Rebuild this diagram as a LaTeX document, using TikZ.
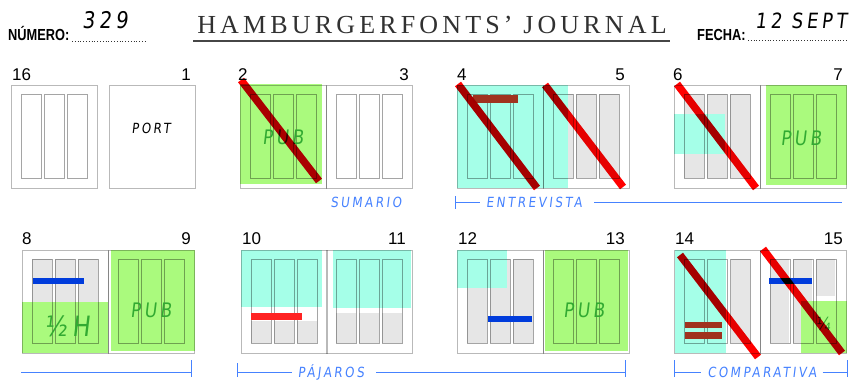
\documentclass[tikz,border=0pt]{standalone}
\usepackage{fontspec}
\setmainfont{Liberation Sans}
\newfontfamily\hand{DejaVu Sans}[FakeSlant=0.12, FakeStretch=0.85]
\newfontfamily\handwide{DejaVu Sans}[FakeSlant=0.12, FakeStretch=0.85, LetterSpace=18]
\newfontfamily\titlefont{Liberation Serif}[LetterSpace=16]
\newfontfamily\narrowfont{Liberation Sans}[FakeStretch=0.8]
\usepackage{tikz}
\usetikzlibrary{positioning}

\definecolor{pubgreen}{RGB}{170,250,125}
\definecolor{edcyan}{RGB}{165,255,232}
\definecolor{colgray}{RGB}{230,230,230}
\definecolor{pageline}{RGB}{185,185,185}
\definecolor{colline}{RGB}{165,165,165}
\definecolor{slashred}{RGB}{255,0,0}
\definecolor{barblue}{RGB}{0,60,220}
\definecolor{barbrown}{RGB}{160,50,30}
\definecolor{barred}{RGB}{255,35,35}
\definecolor{secblue}{RGB}{70,130,255}
\definecolor{inkgreen}{RGB}{50,170,50}
\definecolor{titlegray}{RGB}{70,70,70}

% three text columns of a page
\newcommand\pagecols[2]{\foreach \o in {10,33,56}{\draw[colbox] ({#1+\o},{#2+9}) rectangle ++(20,84);}}
\newcommand\graycols[3]{\foreach \o in {10,33,56}{\fill[colgray] ({#1+\o},#2) rectangle ({#1+\o+20},#3);}}
\newcommand\pagebox[2]{\draw[pagebox] (#1,#2) rectangle ++(86,103);}

\begin{document}
\begin{tikzpicture}[x=1pt, y=-1pt,
    pagebox/.style={draw=pageline, line width=1pt},
    colbox/.style={draw=colline, line width=0.9pt},
    slash/.style={draw=slashred, line width=7.5pt},
    pnum/.style={font=\fontsize{17}{17}\selectfont, inner sep=0pt},
    ink/.style={font=\hand\fontsize{20}{20}\selectfont, text=inkgreen},
    seclabel/.style={font=\handwide\fontsize{14}{14}\selectfont, text=secblue, inner sep=6pt},
    secline/.style={draw=secblue, line width=1pt},
    dotline/.style={draw=black!80, line width=0.8pt, dotted},
]
\useasboundingbox (0,0) rectangle (858,383);
\fill[white] (0,0) rectangle (858,383);

% header
\node[font=\narrowfont\bfseries\fontsize{16}{16}\selectfont, anchor=base west, inner sep=0pt] (numlabel) at (8,40) {NÚMERO:};
\node[font=\handwide\fontsize{23}{23}\selectfont, anchor=base west, inner sep=0pt] (numval) at (82,28) {329};
\draw[dotline] (72,41) -- (145,41);
\node[font=\titlefont\fontsize{26}{26}\selectfont, text=titlegray!70!black, anchor=base, inner sep=0pt] (title) at (432,33) {HAMBURGERFONTS’ JOURNAL};
\draw[draw=titlegray, line width=1.6pt] (193,41) -- (670,41);
\node[font=\narrowfont\bfseries\fontsize{16}{16}\selectfont, anchor=base west, inner sep=0pt] (datelabel) at (697,40) {FECHA:};
\node[font=\handwide\fontsize{21}{21}\selectfont, anchor=base west, inner sep=0pt] (dateval) at (755,28) {12 SEPT};
\draw[dotline] (748,40) -- (848,40);

% gray column fills
\graycols{543}{94}{178}
\graycols{674}{94}{178}
\graycols{22}{259}{343}
\graycols{241}{321}{343}
\graycols{326}{313}{343}
\graycols{457}{259}{343}
\fill[colgray] (731,259) rectangle (750,343);
\fill[colgray] (770,259) rectangle (789,343);
\fill[colgray] (793,259) rectangle (812,343);
\fill[colgray] (816,259) rectangle (835,296);

% coloured zones
\fill[pubgreen] (240,84) rectangle (322,184);
\fill[edcyan] (457,85) rectangle (568,188);
\fill[edcyan] (674,114) rectangle (725,154);
\fill[pubgreen] (766,85) rectangle (847,185);
\fill[pubgreen] (22,302) rectangle (108,353);
\fill[pubgreen] (111,250) rectangle (195,351);
\fill[edcyan] (241,250) rectangle (322,307);
\fill[edcyan] (333,250) rectangle (411,308);
\fill[edcyan] (457,250) rectangle (507,288);
\fill[pubgreen] (545,250) rectangle (628,351);
\fill[edcyan] (675,250) rectangle (726,353);
\fill[pubgreen] (801,301) rectangle (847,353);

% pages and columns
\begin{scope}[blend mode=multiply]
  \foreach \px/\py in {11/85, 240/85, 326/85, 457/85, 543/85, 674/85, 760/85,
                       22/250, 108/250, 241/250, 326/250, 457/250, 543/250, 674/250, 760/250}{
    \pagebox{\px}{\py}
    \pagecols{\px}{\py}
  }
  \pagebox{109}{85}
\end{scope}

% bars
\fill[barbrown] (473,95) rectangle (518,103);
\fill[barblue] (33,278) rectangle (84,284);
\fill[barred] (251,313) rectangle (302,320);
\fill[barblue] (488,316) rectangle (532,322);
\fill[barbrown] (685,322) rectangle (722,328);
\fill[barbrown] (685,332) rectangle (722,339);
\fill[barblue] (769,278) rectangle (812,284);

% texts on pages
\node[font=\handwide\fontsize{14}{14}\selectfont] (port) at (151,128) {PORT};
\node[ink] (pub2) at (283,137) {P\,U\,B};
\node[ink] (pub7) at (801,138) {P\,U\,B};
\node[ink] (pub9) at (151,310) {P\,U\,B};
\node[ink] (pub13) at (584,310) {P\,U\,B};
\node[ink, font=\hand\fontsize{28}{28}\selectfont] (halfh) at (67,326) {½\,H};
\node[ink, font=\hand\fontsize{18}{18}\selectfont] (quarter) at (823,324) {¼};

% page numbers
\node[pnum, anchor=base west] (n16) at (12,80) {16};
\node[pnum, anchor=base east] (n1) at (191,80) {1};
\node[pnum, anchor=base west] (n2) at (238,80) {2};
\node[pnum, anchor=base east] (n3) at (409,80) {3};
\node[pnum, anchor=base west] (n4) at (457,80) {4};
\node[pnum, anchor=base east] (n5) at (625,80) {5};
\node[pnum, anchor=base west] (n6) at (673,80) {6};
\node[pnum, anchor=base east] (n7) at (843,80) {7};
\node[pnum, anchor=base west] (n8) at (22,244) {8};
\node[pnum, anchor=base east] (n9) at (191,244) {9};
\node[pnum, anchor=base west] (n10) at (242,244) {10};
\node[pnum, anchor=base east] (n11) at (406,244) {11};
\node[pnum, anchor=base west] (n12) at (458,244) {12};
\node[pnum, anchor=base east] (n13) at (625,244) {13};
\node[pnum, anchor=base west] (n14) at (675,244) {14};
\node[pnum, anchor=base east] (n15) at (843,244) {15};

% section labels
\node[seclabel] (sumario) at (366,202) {SUMARIO};
\node[seclabel] (entrevista) at (534,202) {ENTREVISTA};
\coordinate (entA) at (455,202);
\coordinate (entB) at (842,202);
\draw[secline] (entA) ++(0,-6) -- ++(0,13);
\draw[secline] (entA) -- (entrevista.west);
\draw[secline] (entrevista.east) ++(6,0) -- (entB);

\coordinate (endA) at (21,372);
\coordinate (endB) at (191,372);
\draw[secline] (endA) -- (endB);
\draw[secline] (endB) ++(0,-12) -- ++(0,17);

\node[seclabel] (pajaros) at (331,372) {PÁJAROS};
\coordinate (pajA) at (237,372);
\coordinate (pajB) at (625,372);
\draw[secline] (pajA) ++(0,-9) -- ++(0,14);
\draw[secline] (pajB) ++(0,-12) -- ++(0,17);
\draw[secline] (pajA) -- (pajaros.west);
\draw[secline] (pajaros.east) ++(6,0) -- (pajB);

\node[seclabel] (comparativa) at (762,372) {COMPARATIVA};
\coordinate (cmpA) at (674,372);
\coordinate (cmpB) at (847,372);
\draw[secline] (cmpA) ++(0,-12) -- ++(0,17);
\draw[secline] (cmpB) ++(0,-12) -- ++(0,17);
\draw[secline] (cmpA) -- (comparativa.west);
\draw[secline] (comparativa.east) -- (cmpB);

% crossed-out pages
\begin{scope}[blend mode=multiply]
  \draw[slash] (241,80) -- (319,181);
  \draw[slash] (458,84) -- (537,188);
  \draw[slash] (545,85) -- (623,187);
  \draw[slash] (677,84) -- (756,188);
  \draw[slash] (680,255) -- (758,357);
  \draw[slash] (763,249) -- (842,353);
\end{scope}
\end{tikzpicture}
\end{document}
